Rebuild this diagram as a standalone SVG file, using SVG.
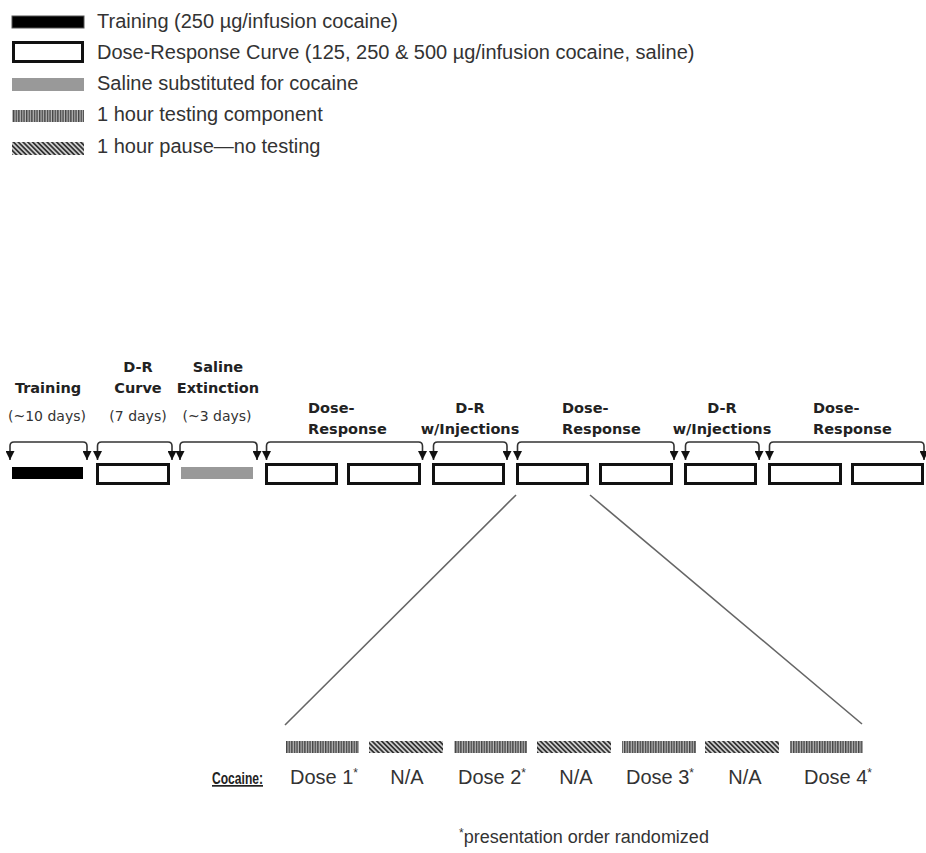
<svg xmlns="http://www.w3.org/2000/svg" width="926" height="853" viewBox="0 0 926 853">
<style>
.leg{font-family:"Liberation Sans",Arial,sans-serif;font-size:20px;fill:#333}
.hd{font-family:"DejaVu Sans",Verdana,sans-serif;font-size:14.5px;font-weight:bold;fill:#222}
.dy{font-family:"DejaVu Sans",Verdana,sans-serif;font-size:14px;fill:#333}
.lab{font-family:"Liberation Sans",Arial,sans-serif;font-size:20px;fill:#333;text-anchor:middle}
.foot{font-family:"Liberation Sans",Arial,sans-serif;font-size:18px;fill:#333;text-anchor:middle}
.box{fill:#fff;stroke:#111;stroke-width:3}
.brk{fill:none;stroke:#333;stroke-width:1.6}
.con{stroke:#666;stroke-width:1.6}
.sup{font-size:12px}
</style>
<defs>
<marker id="ah" viewBox="0 0 10 10" refX="10" refY="5" markerWidth="9" markerHeight="9" markerUnits="userSpaceOnUse" orient="auto-start-reverse">
<path d="M0,0 L10,5 L0,10 z" fill="#111"/>
</marker>
<pattern id="vert" width="2.6" height="10" patternUnits="userSpaceOnUse">
<rect width="2.6" height="10" fill="#bbb"/>
<rect width="1.4" height="10" fill="#444"/>
</pattern>
<pattern id="diag" width="3.4" height="10" patternUnits="userSpaceOnUse" patternTransform="rotate(-45)">
<rect width="3.4" height="10" fill="#ccc"/>
<rect width="1.7" height="10" fill="#333"/>
</pattern>
</defs>

<g id="legend">
<rect x="12" y="16" width="72" height="12" fill="#000" stroke="#555" stroke-width="1"/>
<text class="leg" x="97" y="28">Training (250 µg/infusion cocaine)</text>
<rect class="box" x="13.5" y="42.5" width="69" height="19"/>
<text class="leg" x="97" y="59">Dose-Response Curve (125, 250 &amp; 500 µg/infusion cocaine, saline)</text>
<rect x="12" y="78" width="72" height="13" fill="#999"/>
<text class="leg" x="97" y="90">Saline substituted for cocaine</text>
<rect x="12" y="110" width="72" height="12" fill="url(#vert)"/>
<text class="leg" x="97" y="121">1 hour testing component</text>
<rect x="12" y="142" width="72" height="13" fill="url(#diag)"/>
<text class="leg" x="97" y="153">1 hour pause—no testing</text>
</g>

<g id="phase-training">
<text class="hd" x="48" y="393" text-anchor="middle">Training</text>
<text class="dy" x="47" y="421" text-anchor="middle">(~10 days)</text>
<rect x="12" y="467" width="71" height="12" fill="#000"/>
</g>
<g id="phase-drcurve">
<text class="hd" x="138" y="372" text-anchor="middle">D-R</text>
<text class="hd" x="138" y="393" text-anchor="middle">Curve</text>
<text class="dy" x="138" y="421" text-anchor="middle">(7 days)</text>
<rect class="box" x="97.5" y="464.5" width="71" height="19"/>
</g>
<g id="phase-saline">
<text class="hd" x="218" y="372" text-anchor="middle">Saline</text>
<text class="hd" x="218" y="393" text-anchor="middle">Extinction</text>
<text class="dy" x="217" y="421" text-anchor="middle">(~3 days)</text>
<rect x="181" y="467" width="72" height="12" fill="#999"/>
</g>
<g id="phase-dr1">
<text class="hd" x="308" y="413">Dose-</text>
<text class="hd" x="308" y="434">Response</text>
<rect class="box" x="266.5" y="464.5" width="70" height="19"/>
<rect class="box" x="348.5" y="464.5" width="71" height="19"/>
</g>
<g id="phase-drinj1">
<text class="hd" x="470" y="413" text-anchor="middle">D-R</text>
<text class="hd" x="470" y="434" text-anchor="middle">w/Injections</text>
<rect class="box" x="433.5" y="464.5" width="70" height="19"/>
</g>
<g id="phase-dr2">
<text class="hd" x="562" y="413">Dose-</text>
<text class="hd" x="562" y="434">Response</text>
<rect class="box" x="517.5" y="464.5" width="70" height="19"/>
<rect class="box" x="600.5" y="464.5" width="71" height="19"/>
</g>
<g id="phase-drinj2">
<text class="hd" x="722" y="413" text-anchor="middle">D-R</text>
<text class="hd" x="722" y="434" text-anchor="middle">w/Injections</text>
<rect class="box" x="685.5" y="464.5" width="70" height="19"/>
</g>
<g id="phase-dr3">
<text class="hd" x="813" y="413">Dose-</text>
<text class="hd" x="813" y="434">Response</text>
<rect class="box" x="769.5" y="464.5" width="71" height="19"/>
<rect class="box" x="852.5" y="464.5" width="70" height="19"/>
</g>

<g id="connectors">
<path class="brk" d="M10,460 V446 Q10,442 14,442 H83 Q87,442 87,446 V460" marker-start="url(#ah)" marker-end="url(#ah)"/>
<path class="brk" d="M97.5,460 V446 Q97.5,442 101.5,442 H168 Q172,442 172,446 V460" marker-start="url(#ah)" marker-end="url(#ah)"/>
<path class="brk" d="M180,460 V446 Q180,442 184,442 H253 Q257,442 257,446 V460" marker-start="url(#ah)" marker-end="url(#ah)"/>
<path class="brk" d="M266.5,460 V446 Q266.5,442 270.5,442 H418.5 Q422.5,442 422.5,446 V460" marker-start="url(#ah)" marker-end="url(#ah)"/>
<path class="brk" d="M433.5,460 V446 Q433.5,442 437.5,442 H503 Q507,442 507,446 V460" marker-start="url(#ah)" marker-end="url(#ah)"/>
<path class="brk" d="M517.5,460 V446 Q517.5,442 521.5,442 H670 Q674,442 674,446 V460" marker-start="url(#ah)" marker-end="url(#ah)"/>
<path class="brk" d="M685.5,460 V446 Q685.5,442 689.5,442 H755 Q759,442 759,446 V460" marker-start="url(#ah)" marker-end="url(#ah)"/>
<path class="brk" d="M769.5,460 V446 Q769.5,442 773.5,442 H920 Q924,442 924,446 V460" marker-start="url(#ah)" marker-end="url(#ah)"/>
<line class="con" x1="516" y1="495" x2="285" y2="725"/>
<line class="con" x1="590" y1="495" x2="862" y2="724"/>
</g>

<g id="session">
<rect x="286" y="741" width="73" height="12" fill="url(#vert)"/>
<rect x="369" y="741" width="74" height="12" fill="url(#diag)"/>
<rect x="454" y="741" width="73" height="12" fill="url(#vert)"/>
<rect x="537" y="741" width="74" height="12" fill="url(#diag)"/>
<rect x="622" y="741" width="74" height="12" fill="url(#vert)"/>
<rect x="705" y="741" width="74" height="12" fill="url(#diag)"/>
<rect x="790" y="741" width="73" height="12" fill="url(#vert)"/>
<text x="212" y="784" font-family="Liberation Sans,Arial,sans-serif" font-size="17" font-weight="bold" fill="#222" text-decoration="underline" textLength="51" lengthAdjust="spacingAndGlyphs">Cocaine:</text>
<text class="lab" x="324" y="784">Dose 1<tspan class="sup" dy="-7">*</tspan></text>
<text class="lab" x="407" y="784">N/A</text>
<text class="lab" x="492" y="784">Dose 2<tspan class="sup" dy="-7">*</tspan></text>
<text class="lab" x="576" y="784">N/A</text>
<text class="lab" x="660" y="784">Dose 3<tspan class="sup" dy="-7">*</tspan></text>
<text class="lab" x="745" y="784">N/A</text>
<text class="lab" x="838" y="784">Dose 4<tspan class="sup" dy="-7">*</tspan></text>
<text class="foot" x="584" y="843"><tspan class="sup" dy="-6">*</tspan><tspan dy="6">presentation order randomized</tspan></text>
</g>
</svg>
